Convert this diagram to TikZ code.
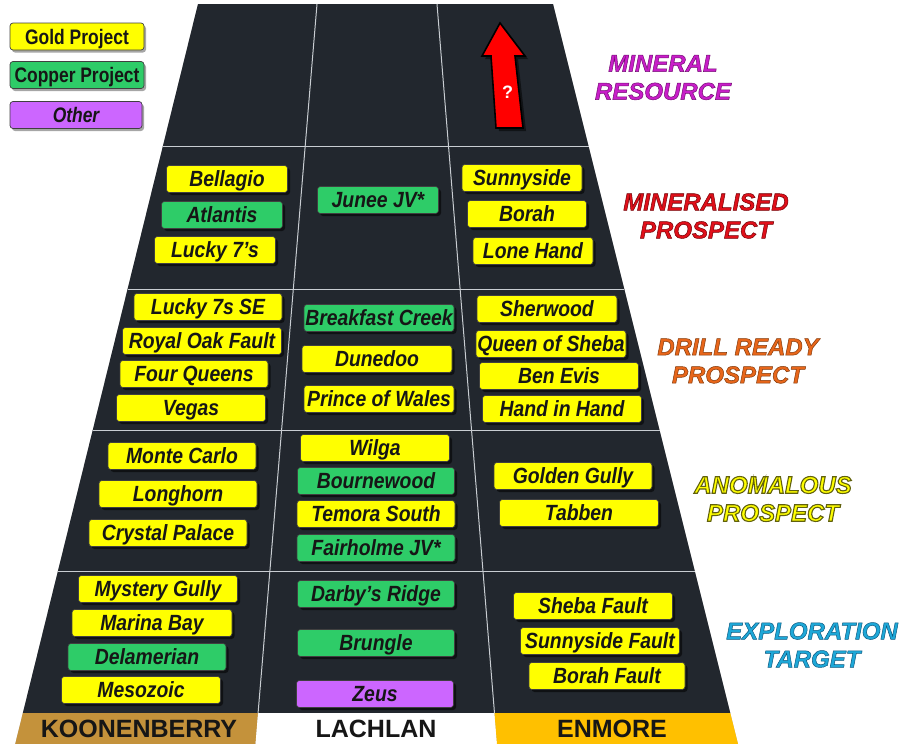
\documentclass[tikz,border=0pt]{standalone}
\usepackage{fontspec}
\setmainfont{Liberation Sans}
\newfontfamily\boxfont[FakeStretch=0.88]{Liberation Sans}
\newfontfamily\legfont[FakeStretch=0.83]{Liberation Sans}
\usetikzlibrary{shadows,calc}
\definecolor{goldc}{HTML}{FFFF00}
\definecolor{copperc}{HTML}{2ECC68}
\definecolor{otherc}{HTML}{CC66FF}
\definecolor{trapc}{HTML}{22272E}
\definecolor{gridc}{HTML}{C9CDD2}
\definecolor{koonc}{HTML}{C4923B}
\definecolor{enmc}{HTML}{FFC000}
\definecolor{resc}{HTML}{C81EC8}
\definecolor{minc}{HTML}{E0101A}
\definecolor{drillc}{HTML}{E8661A}
\definecolor{anomc}{HTML}{FFFF00}
\definecolor{expc}{HTML}{1EA8D8}
\definecolor{inkc}{HTML}{161616}
% text drawn filled and stroked (PDF text render mode 2)
\newcommand\strokedtext[3]{\special{pdf:literal direct 2 Tr #2 w #1 RG}#3\special{pdf:literal direct 0 Tr}}
\tikzset{
  pbox/.style={draw=black!75, line width=0.6pt, rounded corners=3pt,
    minimum height=27pt, inner sep=0pt, text=inkc,
    text height=15.5pt, text depth=0pt,
    font=\boxfont\bfseries\itshape\fontsize{22}{22}\selectfont,
    drop shadow={shadow xshift=2.5pt, shadow yshift=-2.5pt, opacity=.55, fill=black}},
  gold/.style={pbox, fill=goldc},
  copper/.style={pbox, fill=copperc},
  other/.style={pbox, fill=otherc},
  legbox/.style={draw=black!75, line width=0.7pt, rounded corners=3pt,
    minimum height=27pt, inner sep=0pt, text=inkc,
    text height=15pt, text depth=0pt,
    font=\legfont\bfseries\fontsize{21}{21}\selectfont,
    drop shadow={shadow xshift=2pt, shadow yshift=-2.5pt, opacity=.35, fill=black}},
  gridline/.style={draw=gridc, line width=1pt},
  foottext/.style={font=\bfseries\fontsize{25}{25}\selectfont, text=inkc, inner sep=0pt},
  stagefont/.style={font=\bfseries\itshape\fontsize{24}{28}\selectfont, align=center, inner sep=0pt},
}
\begin{document}
\begin{tikzpicture}[x=1pt,y=-1pt]
\useasboundingbox (0,0) rectangle (903,744);
% frame coordinates
\coordinate (TL) at (198,4);
\coordinate (FL) at (15.2,744);
\coordinate (TR) at (553,4);
\coordinate (FR) at (738,744);
\coordinate (C1T) at (317,4);
\coordinate (C1B) at (255.5,744);
\coordinate (C2T) at (437,4);
\coordinate (C2B) at (497,744);
\def\ft{0.95811}
% soft shadow of the frame
\foreach \s in {9,6,3}{
  \fill[black, opacity=.09, shift={(\s,\s/2)}]
    (TL) -- (TR) -- (FR) -- (FL) -- cycle;
}
% dark trapezoid
\fill[trapc] (TL) -- (TR) -- ($(TR)!\ft!(FR)$) -- ($(TL)!\ft!(FL)$) -- cycle;
% footer cells
\fill[koonc] ($(TL)!\ft!(FL)$) -- ($(C1T)!\ft!(C1B)$) -- (C1B) -- (FL) -- cycle;
\fill[white] ($(C1T)!\ft!(C1B)$) -- ($(C2T)!\ft!(C2B)$) -- (C2B) -- (C1B) -- cycle;
\fill[enmc] ($(C2T)!\ft!(C2B)$) -- ($(TR)!\ft!(FR)$) -- (FR) -- (C2B) -- cycle;
% grid
\foreach \t in {0.19324,0.38514,0.57568,0.76622}{
  \draw[gridline] ($(TL)!\t!(FL)$) -- ($(TR)!\t!(FR)$);
}
\draw[gridline] (C1T) -- ($(C1T)!\ft!(C1B)$);
\draw[gridline] (C2T) -- ($(C2T)!\ft!(C2B)$);
% footer labels
\node[foottext] (koon) at (139,728.5) {KOONENBERRY};
\node[foottext] (lach) at (376,728.5) {LACHLAN};
\node[foottext] (enm) at (612,728.5) {ENMORE};
% legend
\node[legbox, fill=goldc, minimum width=134pt] (leggold) at (77,36.5) {Gold Project};
\node[legbox, fill=copperc, minimum width=134pt] (legcopper) at (77,75) {Copper Project};
\node[legbox, fill=otherc, minimum width=132pt, font=\legfont\bfseries\itshape\fontsize{21}{21}\selectfont] (legother) at (76,115) {Other};
% red arrow
\fill[red, draw=black, line width=1.6pt, line join=miter,
  drop shadow={shadow xshift=3pt, shadow yshift=-3pt, opacity=.5, fill=black}]
  (500,23) -- (525,56) -- (515,56) -- (523,128) -- (496,128) -- (491,56) -- (482,56) -- cycle;
\node[text=white, font=\bfseries\fontsize{18}{18}\selectfont, inner sep=0pt] (qmark) at (507.5,92) {?};
% mineralised prospect row
\node[gold, minimum width=121pt] (bellagio) at (227,179) {Bellagio};
\node[copper, minimum width=121pt] (atlantis) at (222,215) {Atlantis};
\node[gold, minimum width=121pt] (lucky7) at (215,250) {Lucky 7’s};
\node[copper, minimum width=121pt] (junee) at (378,200) {Junee JV*};
\node[gold, minimum width=120pt] (sunnyside) at (522,178) {Sunnyside};
\node[gold, minimum width=119pt] (borah) at (527,214) {Borah};
\node[gold, minimum width=120pt] (lonehand) at (533,251) {Lone Hand};
% drill ready row
\node[gold, minimum width=148pt] (lucky7se) at (208,307) {Lucky 7s SE};
\node[gold, minimum width=159pt] (royaloak) at (202,341) {Royal Oak Fault};
\node[gold, minimum width=148pt] (fourq) at (194,374) {Four Queens};
\node[gold, minimum width=149pt] (vegas) at (191,408) {Vegas};
\node[copper, minimum width=150pt] (breakfast) at (379,318) {Breakfast Creek};
\node[gold, minimum width=150pt] (dunedoo) at (377,359) {Dunedoo};
\node[gold, minimum width=150pt] (prince) at (379,399) {Prince of Wales};
\node[gold, minimum width=140pt] (sherwood) at (547,309) {Sherwood};
\node[gold, minimum width=150pt] (queen) at (551,344) {Queen of Sheba};
\node[gold, minimum width=159pt] (benevis) at (559,376) {Ben Evis};
\node[gold, minimum width=159pt] (handinhand) at (562,409) {Hand in Hand};
% anomalous row
\node[gold, minimum width=148pt] (monte) at (182,456) {Monte Carlo};
\node[gold, minimum width=158pt] (longhorn) at (178,494) {Longhorn};
\node[gold, minimum width=158pt] (crystal) at (168,533) {Crystal Palace};
\node[gold, minimum width=149pt] (wilga) at (375,448) {Wilga};
\node[copper, minimum width=157pt] (bournewood) at (376,481) {Bournewood};
\node[gold, minimum width=158pt] (temora) at (376,514) {Temora South};
\node[copper, minimum width=158pt] (fairholme) at (376,548) {Fairholme JV*};
\node[gold, minimum width=158pt] (golden) at (573,476) {Golden Gully};
\node[gold, minimum width=159pt] (tabben) at (579,513) {Tabben};
% exploration row
\node[gold, minimum width=159pt] (mystery) at (158,589) {Mystery Gully};
\node[gold, minimum width=160pt] (marina) at (152,623) {Marina Bay};
\node[copper, minimum width=158pt] (delamerian) at (147,657) {Delamerian};
\node[gold, minimum width=159pt] (mesozoic) at (141,690) {Mesozoic};
\node[copper, minimum width=157pt] (darby) at (376,594) {Darby’s Ridge};
\node[copper, minimum width=157pt] (brungle) at (376,643) {Brungle};
\node[other, minimum width=157pt] (zeus) at (375,694) {Zeus};
\node[gold, minimum width=159pt] (shebaf) at (593,606) {Sheba Fault};
\node[gold, minimum width=159pt] (sunnyf) at (600,641) {Sunnyside Fault};
\node[gold, minimum width=156pt] (borahf) at (607,676) {Borah Fault};
% stage labels
\node[stagefont, text=resc] (lres) at (663,77.5)
  {\strokedtext{0.45 0.05 0.45}{0.5}{MINERAL}\\\strokedtext{0.45 0.05 0.45}{0.5}{RESOURCE}};
\node[stagefont, text=minc] (lmin) at (706,216)
  {\strokedtext{0.45 0 0.02}{0.5}{MINERALISED}\\\strokedtext{0.45 0 0.02}{0.5}{PROSPECT}};
\node[stagefont, text=drillc] (ldrill) at (738,361)
  {\strokedtext{0.5 0.22 0.04}{0.5}{DRILL READY}\\\strokedtext{0.5 0.22 0.04}{0.5}{PROSPECT}};
\node[stagefont, text=anomc] (lanom) at (773,499)
  {\strokedtext{0.38 0.38 0.05}{1.1}{ANOMALOUS}\\\strokedtext{0.38 0.38 0.05}{1.1}{PROSPECT}};
\node[stagefont, text=expc] (lexp) at (812,645)
  {\strokedtext{0.05 0.35 0.5}{0.5}{EXPLORATION}\\\strokedtext{0.05 0.35 0.5}{0.5}{TARGET}};
\end{tikzpicture}
\end{document}
